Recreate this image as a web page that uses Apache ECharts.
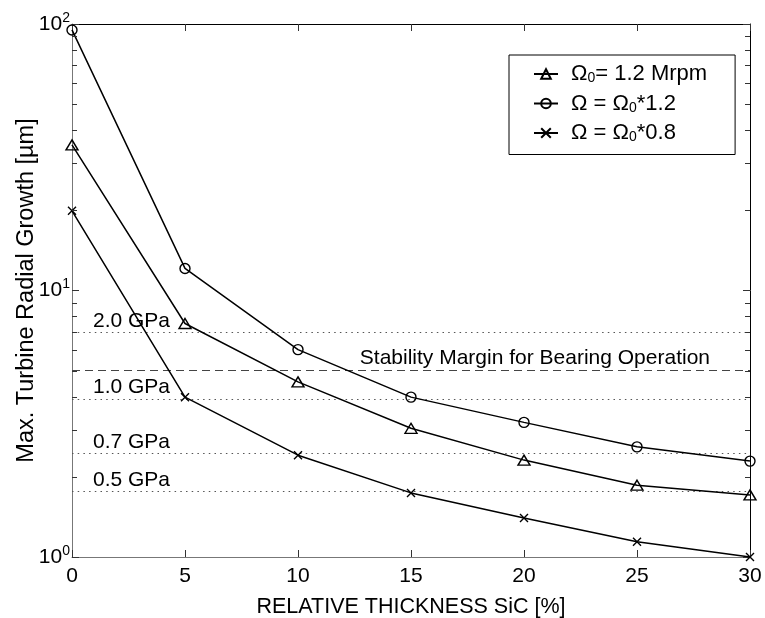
<!DOCTYPE html>
<html>
<head>
<meta charset="utf-8">
<style>
  html, body { margin: 0; padding: 0; background: #fff; }
  #chart { width: 765px; height: 618px; }
</style>
<script src="https://cdn.jsdelivr.net/npm/echarts@6/dist/echarts.min.js"></script>
</head>
<body>
<div id="chart"></div>
<script>
// Relative SiC thickness [%]
const thickness = [0, 5, 10, 15, 20, 25, 30];

// Max. turbine radial growth [µm] for three rotor speeds
const growthNominal = [35.2, 7.52, 4.54, 3.04, 2.31, 1.86, 1.71];   // Ω0 = 1.2 Mrpm
const growthFast    = [95.0, 12.1, 6.0, 3.98, 3.2, 2.59, 2.29];     // Ω = Ω0*1.2
const growthSlow    = [19.9, 3.98, 2.41, 1.74, 1.40, 1.14, 1.0];    // Ω = Ω0*0.8

const seriesNames = ['Ω0= 1.2 Mrpm', 'Ω = Ω0*1.2', 'Ω = Ω0*0.8'];

// Growth allowed by material strength levels
const strengthLevels = [6.95, 3.91, 2.45, 1.756];
const strengthLabels = ['2.0 GPa', '1.0 GPa', '0.7 GPa', '0.5 GPa'];

// Bearing stability limit
const stabilityLevel = 5.0;
const stabilityLabel = 'Stability Margin for Bearing Operation';

// Log-axis minor tick values
const minorTicks = [2, 3, 4, 5, 6, 7, 8, 9, 20, 30, 40, 50, 60, 70, 80, 90];

const FONT = "'Liberation Sans', Arial, Helvetica, sans-serif";
const TICK_COLOR = '#333';

const pairs = ys => thickness.map((x, i) => [x, ys[i]]);

const crossPath = 'path://M0,0L10,10M10,0L0,10';

function lineSeries(name, ys, symbol, size) {
  return {
    name: name,
    type: 'line',
    data: pairs(ys),
    symbol: symbol,
    symbolSize: size,
    showAllSymbol: true,
    lineStyle: { color: '#000', width: 1.5 },
    itemStyle: { color: 'rgba(0,0,0,0)', borderColor: '#000', borderWidth: 1.4 },
    z: 5
  };
}

function tickStyle() {
  return { show: true, inside: true, length: 7, lineStyle: { color: TICK_COLOR, width: 1 } };
}

const chart = echarts.init(document.getElementById('chart'), null, { renderer: 'canvas' });

const option = {
  animation: false,
  backgroundColor: '#fff',
  textStyle: { fontFamily: FONT },
  grid: { left: 72, right: 15, top: 24, bottom: 61, containLabel: false, outerBoundsMode: 'none' },
  legend: {
    orient: 'vertical',
    left: 509,
    top: 55,
    padding: [8, 28, 10, 24],
    itemGap: 7,
    itemWidth: 24,
    itemHeight: 12,
    borderColor: '#000',
    borderWidth: 1,
    backgroundColor: '#fff',
    data: seriesNames,
    formatter: name => name.replace(/Ω0/g, 'Ω{s|0}'),
    textStyle: {
      fontFamily: FONT,
      fontSize: 22,
      color: '#000',
      padding: [0, 0, 0, 8],
      rich: {
        s: { fontFamily: FONT, fontSize: 14, color: '#000', padding: [9, 0, 0, 0] }
      }
    }
  },
  xAxis: [
    {
      type: 'value', min: 0, max: 30, interval: 5, position: 'bottom',
      name: 'RELATIVE THICKNESS SiC [%]', nameLocation: 'middle', nameGap: 39,
      nameMoveOverlap: false,
      nameTextStyle: { fontFamily: FONT, fontSize: 21.5, color: '#000' },
      axisLine: { show: true, onZero: false, lineStyle: { color: '#777', width: 1 } },
      axisTick: tickStyle(),
      axisLabel: { fontFamily: FONT, fontSize: 21, color: '#000', margin: 9 },
      splitLine: { show: false }
    },
    {
      type: 'value', min: 0, max: 30, interval: 5, position: 'top',
      axisLine: { show: true, onZero: false, lineStyle: { color: '#000', width: 1 } },
      axisTick: tickStyle(),
      axisLabel: { show: false },
      splitLine: { show: false }
    }
  ],
  yAxis: [
    {
      type: 'log', logBase: 10, min: 1, max: 100, position: 'left',
      name: 'Max. Turbine Radial Growth [µm]', nameLocation: 'middle', nameGap: 33,
      nameMoveOverlap: false,
      nameTextStyle: { fontFamily: FONT, fontSize: 23.5, color: '#000' },
      axisLine: { show: true, onZero: false, lineStyle: { color: '#777', width: 1 } },
      axisTick: tickStyle(),
      minorTick: { show: false },
      axisLabel: {
        fontFamily: FONT, fontSize: 21, color: '#000', margin: 2,
        formatter: v => '10{e|' + Math.round(Math.log10(v)) + '}',
        rich: { e: { fontFamily: FONT, fontSize: 14, color: '#000', padding: [0, 0, 12, 0] } }
      },
      splitLine: { show: false }
    },
    {
      type: 'log', logBase: 10, min: 1, max: 100, position: 'right',
      axisLine: { show: true, onZero: false, lineStyle: { color: '#000', width: 1 } },
      axisTick: tickStyle(),
      axisLabel: { show: false },
      splitLine: { show: false }
    }
  ],
  series: [
    lineSeries(seriesNames[0], growthNominal, 'triangle', [12, 10]),
    lineSeries(seriesNames[1], growthFast, 'circle', 10),
    lineSeries(seriesNames[2], growthSlow, crossPath, 8),
    {
      // strength level and stability limit lines
      name: 'levels',
      type: 'line',
      data: [],
      markLine: {
        silent: true,
        symbol: ['none', 'none'],
        animation: false,
        data: strengthLevels.map((v, i) => ({
          yAxis: v,
          lineStyle: { type: [1.5, 4.2], color: '#555', width: 1.2 },
          label: {
            formatter: strengthLabels[i], position: 'insideStartTop',
            distance: [21, 1], fontFamily: FONT, fontSize: 21, color: '#000'
          }
        })).concat([{
          yAxis: stabilityLevel,
          lineStyle: { type: [8, 5], color: '#444', width: 1.2 },
          label: {
            formatter: stabilityLabel, position: 'insideEndTop',
            distance: [40, 2], fontFamily: FONT, fontSize: 21, color: '#000'
          }
        }])
      },
      z: 2
    }
  ]
};

chart.setOption(option);

// Minor ticks of the log axis on both sides of the plot box,
// placed through the chart's own coordinate conversion.
const tickElements = [];
minorTicks.forEach(v => {
  const l = chart.convertToPixel({ xAxisIndex: 0, yAxisIndex: 0 }, [0, v]);
  const r = chart.convertToPixel({ xAxisIndex: 0, yAxisIndex: 0 }, [30, v]);
  const yl = Math.round(l[1]) + 0.5;
  const yr = Math.round(r[1]) + 0.5;
  tickElements.push({
    type: 'rect', silent: true, z: 100, zlevel: 1,
    shape: { x: Math.round(l[0]), y: yl - 0.5, width: 5, height: 1 },
    style: { fill: TICK_COLOR }
  });
  tickElements.push({
    type: 'rect', silent: true, z: 100, zlevel: 1,
    shape: { x: Math.round(r[0]) - 5, y: yr - 0.5, width: 5, height: 1 },
    style: { fill: TICK_COLOR }
  });
});
chart.setOption({ graphic: { elements: tickElements } });
</script>
</body>
</html>
